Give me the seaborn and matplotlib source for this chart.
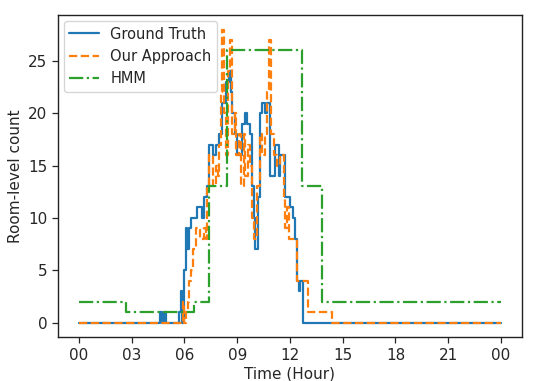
import matplotlib
matplotlib.use("Agg")
import matplotlib.pyplot as plt
import seaborn as sns
import pandas as pd

# change points (hour, count) of the step series
gt_hours = [0, 4.6, 4.7, 4.85, 4.95, 5.7, 5.8, 5.85, 6.0, 6.1, 6.15, 6.27, 6.35, 6.46, 6.74,
            7.0, 7.1, 7.3, 7.4, 7.6, 7.8, 7.97, 8.15, 8.34, 8.53, 8.62, 8.72, 8.9, 9.0,
            9.28, 9.47, 9.56, 9.75, 9.85, 9.94, 10.04, 10.2, 10.32, 10.4, 10.6, 10.7,
            10.88, 11.17, 11.36, 11.45, 11.73, 12.0, 12.2, 12.3, 12.4, 12.5, 12.58, 12.77, 24]
gt_counts = [0, 1, 0, 1, 0, 1, 3, 0, 5, 9, 7, 9, 10, 10, 11,
             10, 12, 13, 17, 16, 17, 18, 21, 23, 24, 22, 20, 18, 16,
             19, 20, 19, 18, 13, 10, 7, 12, 20, 21, 20, 21,
             14, 17, 14, 16, 12, 11, 10, 8, 4, 3, 4, 0, 0]

our_hours = [0, 5.9, 6.0, 6.08, 6.18, 6.27, 6.37, 6.46, 6.65, 6.9, 7.1, 7.2, 7.3, 7.4,
             7.6, 7.8, 7.9, 7.97, 8.06, 8.15, 8.25, 8.34, 8.45, 8.57, 8.72, 8.87, 8.95,
             9.1, 9.2, 9.38, 9.47, 9.62, 9.75, 9.85, 9.94, 10.13, 10.3, 10.4, 10.6, 10.7,
             10.8, 10.9, 11.07, 11.26, 11.45, 11.64, 11.73, 11.83, 11.92, 12.4, 13.05, 14.37, 24]
our_counts = [0, 2, 0, 1, 2, 4, 5, 7, 9, 8, 9, 8, 13, 16,
              13, 15, 14, 17, 22, 28, 20, 16, 24, 27, 18, 20, 16,
              18, 13, 18, 14, 17, 15, 10, 8, 13, 18, 16, 18, 22,
              27, 18, 16, 15, 16, 12, 9, 11, 8, 4, 1, 0, 0]

hmm_hours = [0, 2.7, 6.55, 7.4, 8.4, 12.7, 13.85, 24]
hmm_counts = [2, 1, 2, 13, 26, 13, 2, 2]

tick_hours = [0, 3, 6, 9, 12, 15, 18, 21, 24]
tick_labels = ["00", "03", "06", "09", "12", "15", "18", "21", "00"]

sns.set_style("ticks")
plt.rcParams["font.family"] = ["DejaVu Sans"]

fig = plt.figure(figsize=(5.56, 3.81), dpi=100)
ax = fig.add_axes([0.104, 0.115, 0.835, 0.846])

series = [
    ("Ground Truth", gt_hours, gt_counts, "-", "#1f77b4"),
    ("Our Approach", our_hours, our_counts, "--", "#ff7f0e"),
    ("HMM", hmm_hours, hmm_counts, "-.", "#2ca02c"),
]
for name, hrs, cnt, ls, col in series:
    df = pd.DataFrame({"hour": hrs, "count": cnt})
    sns.lineplot(data=df, x="hour", y="count", ax=ax, sort=False, estimator=None,
                 drawstyle="steps-post", linestyle=ls, color=col, linewidth=1.6, label=name)

ax.set_xticks(tick_hours)
ax.set_xticklabels(tick_labels)
ax.set_yticks([0, 5, 10, 15, 20, 25])
ax.set_xlim(-1.2, 25.2)
ax.set_ylim(-1.4, 29.4)
ax.tick_params(labelsize=11, direction="out", length=4, width=0.9)
for s in ax.spines.values():
    s.set_visible(True)
    s.set_color("#222222")
    s.set_linewidth(1.0)
ax.set_xlabel("Time (Hour)", fontsize=11, labelpad=3)
ax.set_ylabel("Room-level count", fontsize=11)
ax.legend(loc="upper left", fontsize=10.5, frameon=True, borderaxespad=0.4)

fig.savefig("out.png", dpi=100)
